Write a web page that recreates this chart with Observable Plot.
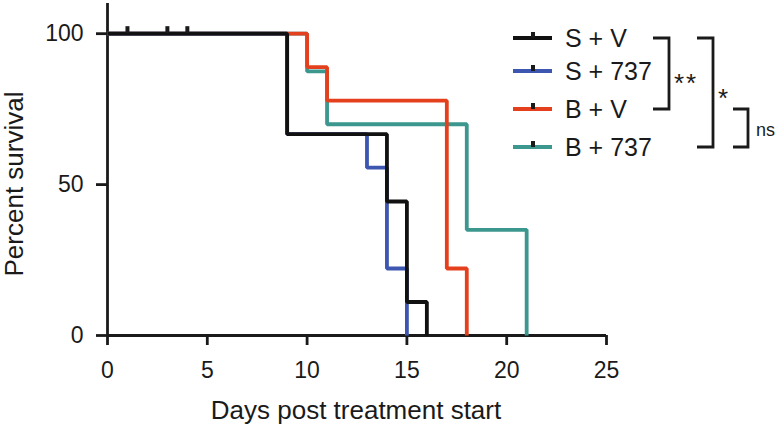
<!DOCTYPE html>
<html><head><meta charset="utf-8">
<script src="https://cdn.jsdelivr.net/npm/d3@7"></script>
<script src="https://cdn.jsdelivr.net/npm/@observablehq/plot@0.6"></script>
<style>body{margin:0;background:#fff;} #chart{width:779px;height:426px;}</style>
</head><body><div id="chart"></div>
<script>
// ---- data ----
const groups = ["S + V", "S + 737", "B + V", "B + 737"];
const colors = ["#111111", "#3d57b1", "#e5401d", "#3c978f"];
const daysSV = [0, 9, 14, 15, 16];
const survSV = [100, 66.7, 44.4, 11.1, 0];
const daysS737 = [0, 9, 13, 14, 15];
const survS737 = [100, 66.7, 55.6, 22.2, 0];
const daysBV = [0, 10, 11, 17, 18];
const survBV = [100, 88.9, 77.8, 22.2, 0];
const daysB737 = [0, 10, 11, 18, 21];
const survB737 = [100, 87.5, 70, 35, 0];
const censorDays = [1, 3, 4];
const censorSurv = [100, 100, 100];
const xTicks = [0, 5, 10, 15, 20, 25];
const yTicks = [0, 50, 100];
const comparisonLabels = ["**", "*", "ns"];
const xTitle = "Days post treatment start";
const yTitle = "Percent survival";

const rows = (g, days, surv) => days.map((d, i) => ({group: g, day: d, surv: surv[i]}));
const series = [
  rows(groups[3], daysB737, survB737),
  rows(groups[2], daysBV, survBV),
  rows(groups[1], daysS737, survS737),
  rows(groups[0], daysSV, survSV)
];
const censored = censorDays.map((d, i) => ({day: d, surv: censorSurv[i]}));

const INK = "#1a1a1a";
const AXW = 2.8;
const LW = 3.8;
const FONT = "'Liberation Sans', Arial, Helvetica, sans-serif";

const lineMarks = series.map(s => Plot.line(s, {
  x: "day", y: "surv", stroke: "group", curve: "step-after",
  strokeWidth: LW, strokeLinejoin: "miter", strokeLinecap: "butt"
}));

const chart = Plot.plot({
  width: 779, height: 426,
  marginLeft: 107, marginRight: 173, marginTop: 3, marginBottom: 91,
  x: {domain: [0, 25]},
  y: {domain: [0, 110]},
  color: {domain: groups, range: colors},
  style: {fontFamily: FONT, background: "#fff", color: INK},
  marks: [
    Plot.ruleX([0], {stroke: INK, strokeWidth: AXW}),
    Plot.ruleY([0], {stroke: INK, strokeWidth: AXW}),
    Plot.axisX({ticks: xTicks, tickSize: 10, tickPadding: 16, fontSize: 23, label: null, strokeWidth: AXW, tickFormat: d => String(d)}),
    Plot.axisY({ticks: yTicks, tickSize: 11, tickPadding: 13, fontSize: 23, label: null, strokeWidth: AXW, tickFormat: d => String(d)}),
    ...lineMarks,
    Plot.ruleX(censored, {x: "day", y1: "surv", y2: "surv", insetTop: -7, stroke: INK, strokeWidth: 4})
  ]
});

document.getElementById("chart").appendChild(chart);
const svg = d3.select(chart);

// axis titles
svg.append("text")
  .attr("x", 356).attr("y", 419)
  .attr("text-anchor", "middle")
  .style("font-family", FONT).style("font-size", "26px").attr("fill", INK)
  .text(xTitle);
svg.append("text")
  .attr("transform", "translate(23,184) rotate(-90)")
  .attr("text-anchor", "middle")
  .style("font-family", FONT).style("font-size", "26px").attr("fill", INK)
  .text(yTitle);

// legend
const rowY = [38, 71, 109, 147];
const lg = svg.append("g").attr("text-anchor", "start");
groups.forEach((g, i) => {
  const y = rowY[i];
  lg.append("line").attr("x1", 513).attr("x2", 552).attr("y1", y).attr("y2", y)
    .attr("stroke", colors[i]).attr("stroke-width", LW);
  lg.append("line").attr("x1", 533).attr("x2", 533).attr("y1", y - 6).attr("y2", y)
    .attr("stroke", INK).attr("stroke-width", 4);
  lg.append("text").attr("x", 565).attr("y", y).attr("dy", "0.36em")
    .attr("text-anchor", "start")
    .style("font-family", FONT).style("font-size", "25px").attr("fill", INK)
    .text(g);
});

// significance brackets
const brackets = [
  {x0: 653, x1: 669, y0: rowY[0], y1: rowY[2], lx: 674, ly: 92, size: 26, ls: 2},
  {x0: 697, x1: 713, y0: rowY[0], y1: rowY[3], lx: 718, ly: 107, size: 26, ls: 0},
  {x0: 733, x1: 748, y0: rowY[2], y1: rowY[3], lx: 756, ly: 136, size: 18, ls: 0}
];
brackets.forEach((b, i) => {
  lg.append("path")
    .attr("d", `M${b.x0},${b.y0}H${b.x1}V${b.y1}H${b.x0}`)
    .attr("fill", "none").attr("stroke", INK).attr("stroke-width", AXW);
  lg.append("text").attr("x", b.lx).attr("y", b.ly)
    .attr("text-anchor", "start")
    .style("font-family", FONT).style("font-size", b.size + "px")
    .style("letter-spacing", b.ls + "px").attr("fill", INK)
    .text(comparisonLabels[i]);
});
</script>
</body></html>
